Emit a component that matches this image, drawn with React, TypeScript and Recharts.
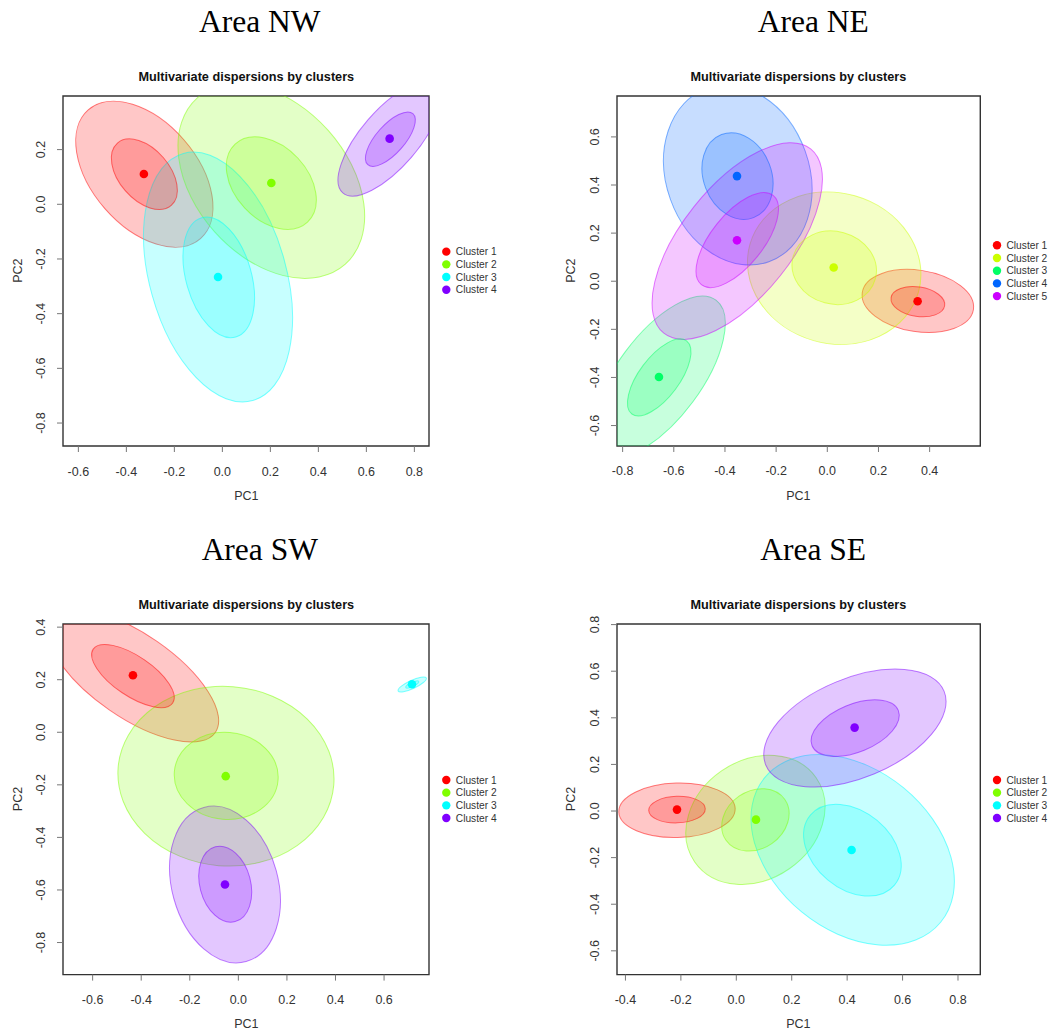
import { ScatterChart, Scatter, XAxis, YAxis, ReferenceArea } from 'recharts'

// cluster labels and colours (R rainbow palettes)
const names4 = ['Cluster 1', 'Cluster 2', 'Cluster 3', 'Cluster 4']
const names5 = ['Cluster 1', 'Cluster 2', 'Cluster 3', 'Cluster 4', 'Cluster 5']
const rainbow4 = ['#FF0000', '#80FF00', '#00FFFF', '#8000FF']
const rainbow5 = ['#FF0000', '#CCFF00', '#00FF66', '#0066FF', '#CC00FF']

// centroids: [PC1, PC2]
// ellipses: [PC1 centre, PC2 centre, PC1 half-extent, PC2 half-extent, correlation]
const nwCentroids = [[-0.327, 0.111], [0.204, 0.078], [-0.018, -0.266], [0.697, 0.24]]
const nwOuter = [
  [-0.325, 0.11, 0.286, 0.267, -0.45],
  [0.204, 0.085, 0.389, 0.356, -0.36],
  [-0.018, -0.266, 0.31, 0.457, -0.33],
  [0.697, 0.24, 0.215, 0.21, 0.72],
]
const nwInner = [
  [-0.325, 0.11, 0.1375, 0.129, -0.45],
  [0.204, 0.0775, 0.1875, 0.169, -0.36],
  [-0.015, -0.267, 0.149, 0.2205, -0.34],
  [0.7, 0.238, 0.104, 0.0995, 0.7],
]
const nwXTicks = [-0.6, -0.4, -0.2, 0, 0.2, 0.4, 0.6, 0.8]
const nwYTicks = [-0.8, -0.6, -0.4, -0.2, 0, 0.2]

const neCentroids = [[0.353, -0.083], [0.025, 0.057], [-0.658, -0.398], [-0.353, 0.437], [-0.353, 0.17]]
const neOuter = [
  [0.354, -0.082, 0.218, 0.131, -0.19],
  [0.027, 0.054, 0.339, 0.317, -0.08],
  [-0.658, -0.398, 0.259, 0.336, 0.66],
  [-0.35, 0.441, 0.29, 0.374, -0.16],
  [-0.352, 0.167, 0.333, 0.409, 0.63],
]
const neInner = [
  [0.354, -0.085, 0.105, 0.063, -0.19],
  [0.027, 0.056, 0.165, 0.153, -0.08],
  [-0.657, -0.4, 0.124, 0.16, 0.66],
  [-0.351, 0.437, 0.139, 0.18, -0.18],
  [-0.352, 0.171, 0.161, 0.1975, 0.65],
]
const neXTicks = [-0.8, -0.6, -0.4, -0.2, 0, 0.2, 0.4]
const neYTicks = [-0.6, -0.4, -0.2, 0, 0.2, 0.4, 0.6]

const swCentroids = [[-0.434, 0.217], [-0.052, -0.167], [0.715, 0.183], [-0.055, -0.579]]
const swOuter = [
  [-0.434, 0.216, 0.353, 0.253, -0.68],
  [-0.051, -0.167, 0.445, 0.342, -0.03],
  [0.716, 0.182, 0.0585, 0.0285, 0.8],
  [-0.055, -0.579, 0.228, 0.298, -0.21],
]
const swInner = [
  [-0.434, 0.214, 0.17, 0.12, -0.68],
  [-0.05, -0.166, 0.214, 0.166, -0.03],
  [0.716, 0.182, 0.027, 0.0135, 0.8],
  [-0.054, -0.578, 0.109, 0.1445, -0.21],
]
const swXTicks = [-0.6, -0.4, -0.2, 0, 0.2, 0.4, 0.6]
const swYTicks = [-0.8, -0.6, -0.4, -0.2, 0, 0.2, 0.4]

const seCentroids = [[-0.214, 0.006], [0.071, -0.037], [0.416, -0.167], [0.427, 0.358]]
const seOuter = [
  [-0.214, 0.003, 0.21, 0.117, 0.05],
  [0.069, -0.038, 0.251, 0.277, 0.2],
  [0.42, -0.167, 0.367, 0.409, -0.33],
  [0.428, 0.356, 0.329, 0.253, 0.45],
]
const seInner = [
  [-0.214, 0.006, 0.102, 0.057, 0.05],
  [0.069, -0.038, 0.1215, 0.134, 0.2],
  [0.419, -0.168, 0.176, 0.197, -0.33],
  [0.429, 0.356, 0.159, 0.1215, 0.45],
]
const seXTicks = [-0.4, -0.2, 0, 0.2, 0.4, 0.6, 0.8]
const seYTicks = [-0.6, -0.4, -0.2, 0, 0.2, 0.4, 0.6, 0.8]

const SANS = '"Liberation Sans", Arial, sans-serif'
const SERIF = '"Liberation Serif", "Times New Roman", serif'
const AX_W = 70 // room left of the plot box
const AX_H = 64 // room below the plot box
const PAD_T = 24 // room above, so top tick labels are not cut
const PAD_R = 6

type Panel = {
  title: string
  left: number
  top: number
  w: number
  h: number
  xDomain: [number, number]
  yDomain: [number, number]
  xTicks: number[]
  yTicks: number[]
  centroids: number[][]
  outer: number[][]
  inner: number[][]
  colors: string[]
  names: string[]
}

const panels: Panel[] = [
  {
    title: 'Area NW', left: 63.3, top: 95.7, w: 366, h: 350,
    xDomain: [-0.664, 0.861], yDomain: [-0.884, 0.396],
    xTicks: nwXTicks, yTicks: nwYTicks,
    centroids: nwCentroids, outer: nwOuter, inner: nwInner, colors: rainbow4, names: names4,
  },
  {
    title: 'Area NE', left: 616.7, top: 95.7, w: 363.3, h: 350,
    xDomain: [-0.822, 0.598], yDomain: [-0.685, 0.77],
    xTicks: neXTicks, yTicks: neYTicks,
    centroids: neCentroids, outer: neOuter, inner: neInner, colors: rainbow5, names: names5,
  },
  {
    title: 'Area SW', left: 63.3, top: 623.7, w: 366, h: 350.6,
    xDomain: [-0.722, 0.785], yDomain: [-0.922, 0.412],
    xTicks: swXTicks, yTicks: swYTicks,
    centroids: swCentroids, outer: swOuter, inner: swInner, colors: rainbow4, names: names4,
  },
  {
    title: 'Area SE', left: 616.7, top: 623.7, w: 363.3, h: 350.6,
    xDomain: [-0.4305, 0.8805], yDomain: [-0.702, 0.8026],
    xTicks: seXTicks, yTicks: seYTicks,
    centroids: seCentroids, outer: seOuter, inner: seInner, colors: rainbow4, names: names4,
  },
]

// covariance-style ellipse: half-extents + correlation, converted to pixel axes and rotation
function DispersionEllipse(props: any) {
  const { cx, cy, payload, kx, ky } = props
  const a = payload.sx * kx
  const b = payload.sy * ky
  const c = -payload.r * a * b // screen y points down
  const mid = (a * a + b * b) / 2
  const d = Math.sqrt(((a * a - b * b) / 2) ** 2 + c * c)
  const angle = (Math.atan2(2 * c, a * a - b * b) * 90) / Math.PI
  return (
    <ellipse
      cx={cx}
      cy={cy}
      rx={Math.sqrt(mid + d)}
      ry={Math.sqrt(Math.max(mid - d, 0))}
      transform={`rotate(${angle} ${cx} ${cy})`}
      fill={payload.color}
      fillOpacity={0.22}
      stroke={payload.color}
      strokeOpacity={0.5}
      strokeWidth={1}
    />
  )
}

function Centroid(props: any) {
  const { cx, cy, payload } = props
  return <circle cx={cx} cy={cy} r={4.3} fill={payload.color} />
}

const fmt = (v: number) => v.toFixed(1)

function ClusterPanel({ p }: { p: Panel }) {
  const kx = p.w / (p.xDomain[1] - p.xDomain[0])
  const ky = p.h / (p.yDomain[1] - p.yDomain[0])
  const toEllipses = (rows: number[][]) =>
    rows.map(([x, y, sx, sy, r], i) => ({ x, y, sx, sy, r, color: p.colors[i] }))
  const points = p.centroids.map(([x, y], i) => ({ x, y, color: p.colors[i] }))

  return (
    <div style={{ position: 'absolute', left: p.left - AX_W, top: p.top - PAD_T }}>
      <ScatterChart
        width={AX_W + p.w + PAD_R}
        height={PAD_T + p.h + AX_H}
        margin={{ top: PAD_T, right: PAD_R, bottom: 0, left: 0 }}
      >
        <XAxis
          type="number"
          dataKey="x"
          domain={p.xDomain}
          ticks={p.xTicks}
          interval={0}
          allowDataOverflow
          height={AX_H}
          axisLine={false}
          tickSize={6}
          tickLine={{ stroke: '#777' }}
          tick={(t: any) => (
            <text x={t.x} y={PAD_T + p.h + 29.5} textAnchor="middle" fontSize={12.5} fontFamily={SANS} fill="#333">
              {fmt(t.payload.value)}
            </text>
          )}
        />
        <YAxis
          type="number"
          dataKey="y"
          domain={p.yDomain}
          ticks={p.yTicks}
          interval={0}
          allowDataOverflow
          width={AX_W}
          axisLine={false}
          tickSize={6}
          tickLine={{ stroke: '#777' }}
          tick={(t: any) => (
            <text
              transform={`translate(${AX_W - 18},${t.y}) rotate(-90)`}
              textAnchor="middle"
              fontSize={12.5}
              fontFamily={SANS}
              fill="#333"
            >
              {fmt(t.payload.value)}
            </text>
          )}
        />
        <Scatter
          data={toEllipses(p.outer)}
          isAnimationActive={false}
          shape={(s: any) => <DispersionEllipse {...s} kx={kx} ky={ky} />}
        />
        <Scatter
          data={toEllipses(p.inner)}
          isAnimationActive={false}
          shape={(s: any) => <DispersionEllipse {...s} kx={kx} ky={ky} />}
        />
        <Scatter data={points} isAnimationActive={false} shape={Centroid} />
        <ReferenceArea
          x1={p.xDomain[0]}
          x2={p.xDomain[1]}
          y1={p.yDomain[0]}
          y2={p.yDomain[1]}
          ifOverflow="visible"
          fill="none"
          fillOpacity={0}
          stroke="#333"
          strokeWidth={1.4}
        />
      </ScatterChart>
    </div>
  )
}

function PanelText({ p }: { p: Panel }) {
  const midX = p.left + p.w / 2
  const midY = p.top + p.h / 2
  const n = p.names.length
  return (
    <g>
      <text x={p.left + 196.5} y={p.top - 64} textAnchor="middle" fontSize={31.5} fontFamily={SERIF} fill="#000">
        {p.title}
      </text>
      <text x={midX} y={p.top - 15} textAnchor="middle" fontSize={12.7} fontWeight="bold" fontFamily={SANS} fill="#111">
        Multivariate dispersions by clusters
      </text>
      <text x={midX} y={p.top + p.h + 54} textAnchor="middle" fontSize={12.5} fontFamily={SANS} fill="#333">
        PC1
      </text>
      <text
        transform={`translate(${p.left - 41.5},${midY}) rotate(-90)`}
        textAnchor="middle"
        fontSize={12.5}
        fontFamily={SANS}
        fill="#333"
      >
        PC2
      </text>
      {p.names.map((name, i) => {
        const y = midY + (i - (n - 1) / 2) * 12.7
        return (
          <g key={name}>
            <circle cx={p.left + p.w + 17} cy={y} r={4.2} fill={p.colors[i]} />
            <text x={p.left + p.w + 26.5} y={y + 3.7} fontSize={10.2} fontFamily={SANS} fill="#333">
              {name}
            </text>
          </g>
        )
      })}
    </g>
  )
}

export default function App() {
  return (
    <div style={{ position: 'absolute', left: 0, top: 0, width: 1064, height: 1034, background: '#fff' }}>
      {panels.map((p) => (
        <ClusterPanel key={p.title} p={p} />
      ))}
      <svg
        width={1064}
        height={1034}
        style={{ position: 'absolute', left: 0, top: 0, pointerEvents: 'none' }}
      >
        {panels.map((p) => (
          <PanelText key={p.title} p={p} />
        ))}
      </svg>
    </div>
  )
}
